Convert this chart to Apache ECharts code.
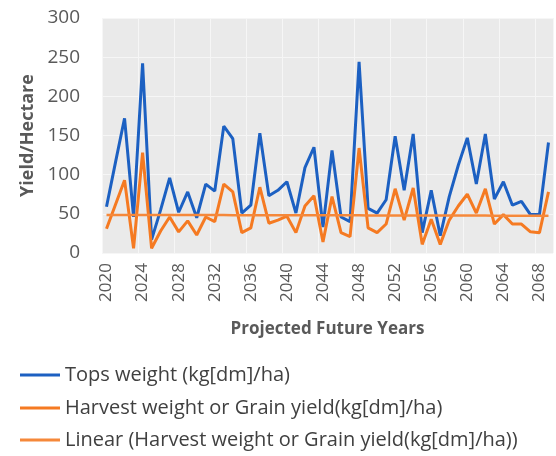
<!DOCTYPE html>
<html>
<head>
<meta charset="utf-8">
<script src="https://cdn.jsdelivr.net/npm/echarts@6/dist/echarts.min.js"></script>
<style>
html,body{margin:0;padding:0;background:#fff;}
#chart{width:556px;height:456px;}
</style>
</head>
<body>
<div id="chart"></div>
<script>
// years 2020..2069
var startYear=2020;
var years=[];
for(var y=startYear;y<startYear+50;y++){years.push(String(y));}

var topsWeight=[59,116,172,46,242,17,55,96,52,78,
	45,88,79,162,146,51,61,153,73,80,
	91,51,109,135,33,131,46,40,244,57,
	51,68,149,80,152,26,80,22,72,112,
	147,88,152,69,91,61,66,49,49,141];
var harvestWeight=[31,62,93,6,128,6,28,46,27,41,
	23,46,40,88,78,26,32,84,38,42,
	47,26,60,73,14,72,26,21,134,32,
	26,37,82,42,83,11,43,11,42,60,
	75,51,82,37,49,37,37,27,26,78];
var yTicks=[0,50,100,150,200,250,300];

var seriesNames=['Tops weight (kg[dm]/ha)','Harvest weight or Grain yield(kg[dm]/ha)','Linear (Harvest weight or Grain yield(kg[dm]/ha))'];
var seriesColors=['#1c60c2','#f57a22','#f5883a'];

// linear trend of harvest weight (least squares, like excel trendline)
function linearTrend(arr){
	var n=arr.length,sx=0,sy=0,sxy=0,sxx=0;
	for(var i=0;i<n;i++){sx+=i;sy+=arr[i];sxy+=i*arr[i];sxx+=i*i;}
	var b=(n*sxy-sx*sy)/(n*sxx-sx*sx);
	var a=(sy-b*sx)/n;
	return arr.map(function(v,i){return +(a+b*i).toFixed(2);});
}
var trend=linearTrend(harvestWeight);

var chart=echarts.init(document.getElementById('chart'));
var font='"Open Sans", sans-serif';
//one legend per row so nothing wraps
var legendTops=[365,398,430];
var legends=seriesNames.map(function(name,i){
	return {
		left:20,top:legendTops[i],padding:0,
		itemWidth:40,itemHeight:3,
		icon:'rect',
		textStyle:{fontSize:20,color:'#404040',fontFamily:font},
		data:[name]
	};
});
chart.setOption({
	animation:false,
	textStyle:{fontFamily:font},
	grid:{left:102,right:3,top:18,bottom:203,show:true,backgroundColor:'#eaeaea',borderWidth:0},
	legend:legends,
	xAxis:{
		type:'category',
		boundaryGap:true,
		data:years,
		name:'Projected Future Years',
		nameLocation:'middle',
		nameGap:68,
		nameTextStyle:{fontSize:17,fontWeight:'bold',color:'#595959'},
		axisLine:{show:false},
		axisTick:{show:false},
		axisLabel:{rotate:90,interval:3,fontSize:17,color:'#595959',margin:10},
		splitLine:{show:true,interval:3,lineStyle:{color:'#f6f6f6',width:1}}
	},
	yAxis:{
		type:'value',
		min:yTicks[0],max:yTicks[yTicks.length-1],interval:50,
		name:'Yield/Hectare',
		nameLocation:'middle',
		nameGap:64,
		nameTextStyle:{fontSize:18,fontWeight:'bold',color:'#595959'},
		axisLine:{show:false},
		axisTick:{show:false},
		axisLabel:{fontSize:19,color:'#595959',margin:22},
		splitLine:{lineStyle:{color:'#f6f6f6',width:1}}
	},
	series:[
		{name:seriesNames[0],type:'line',data:topsWeight,showSymbol:false,
			lineStyle:{color:seriesColors[0],width:3},itemStyle:{color:seriesColors[0]}},
		{name:seriesNames[1],type:'line',data:harvestWeight,showSymbol:false,
			lineStyle:{color:seriesColors[1],width:3},itemStyle:{color:seriesColors[1]}},
		{name:seriesNames[2],type:'line',data:trend,showSymbol:false,
			lineStyle:{color:seriesColors[2],width:2.5},itemStyle:{color:seriesColors[2]}}
	]
});
</script>
</body>
</html>
